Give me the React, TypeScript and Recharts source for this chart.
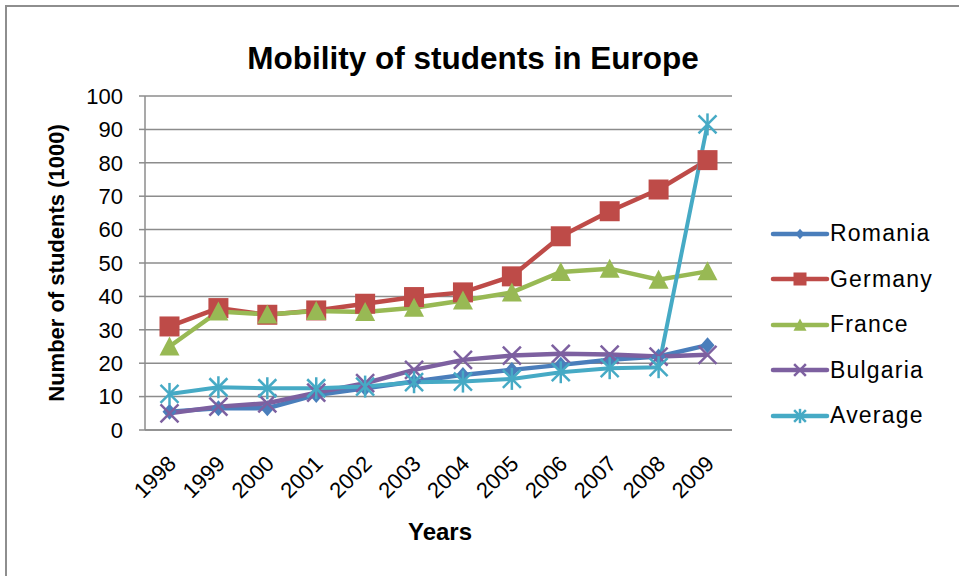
import React from "react";
import { LineChart, Line, XAxis, YAxis, CartesianGrid } from "recharts";

const YEARS = ["1998", "1999", "2000", "2001", "2002", "2003", "2004", "2005", "2006", "2007", "2008", "2009"];
const ROMANIA = [5.5, 6.5, 6.5, 10.5, 12.5, 14.5, 16.5, 18, 19.5, 21, 22, 25.4];
const GERMANY = [31, 36.5, 34.5, 35.8, 37.8, 39.8, 41.2, 46, 58, 65.5, 72, 80.8];
const FRANCE = [25, 35.5, 34.6, 35.6, 35.3, 36.6, 38.8, 41.2, 47.3, 48.3, 45, 47.5];
const BULGARIA = [5, 7, 8, 11.2, 14, 18, 21, 22.3, 22.8, 22.6, 22, 22.5];
const AVERAGE = [10.8, 12.8, 12.5, 12.5, 13, 14.3, 14.5, 15.3, 17.3, 18.5, 18.8, 91.5];
const Y_TICKS = [0, 10, 20, 30, 40, 50, 60, 70, 80, 90, 100];

const SERIES = [
  { key: "Romania", values: ROMANIA, color: "#4a7ebb", shape: "diamond" },
  { key: "Germany", values: GERMANY, color: "#be4b48", shape: "square" },
  { key: "France", values: FRANCE, color: "#98b954", shape: "triangle" },
  { key: "Bulgaria", values: BULGARIA, color: "#7d60a0", shape: "x" },
  { key: "Average", values: AVERAGE, color: "#46aac5", shape: "star" },
];

const data = YEARS.map((year, i) => {
  const row: Record<string, string | number> = { year };
  for (const s of SERIES) row[s.key] = s.values[i];
  return row;
});

const FONT = '"Liberation Sans", Arial, sans-serif';

function Marker({ cx, cy, shape, color, size = 1 }: { cx: number; cy: number; shape: string; color: string; size?: number }) {
  if (cx == null || cy == null) return null;
  const k = size;
  switch (shape) {
    case "diamond":
      return <polygon points={`${cx},${cy - 8 * k} ${cx + 7 * k},${cy} ${cx},${cy + 8 * k} ${cx - 7 * k},${cy}`} fill={color} />;
    case "square":
      return <rect x={cx - 10 * k} y={cy - 10 * k} width={20 * k} height={20 * k} fill={color} />;
    case "triangle":
      return <polygon points={`${cx},${cy - 10 * k} ${cx + 10 * k},${cy + 9 * k} ${cx - 10 * k},${cy + 9 * k}`} fill={color} />;
    case "x":
      return (
        <g stroke={color} strokeWidth={2.5}>
          <line x1={cx - 9 * k} y1={cy - 9 * k} x2={cx + 9 * k} y2={cy + 9 * k} />
          <line x1={cx - 9 * k} y1={cy + 9 * k} x2={cx + 9 * k} y2={cy - 9 * k} />
        </g>
      );
    default:
      return (
        <g stroke={color} strokeWidth={2.5}>
          <line x1={cx - 9 * k} y1={cy - 9 * k} x2={cx + 9 * k} y2={cy + 9 * k} />
          <line x1={cx - 9 * k} y1={cy + 9 * k} x2={cx + 9 * k} y2={cy - 9 * k} />
          <line x1={cx} y1={cy - 11 * k} x2={cx} y2={cy + 11 * k} />
        </g>
      );
  }
}

function YearTick({ x, y, payload }: any) {
  return (
    <g transform={`translate(${x + 8},${y + 27})`}>
      <text textAnchor="end" transform="rotate(-45)" fontSize={22} fontFamily={FONT} fill="#000">
        {payload.value}
      </text>
    </g>
  );
}

function LegendBox() {
  return (
    <div style={{ position: "absolute", left: 770, top: 211, fontFamily: FONT }}>
      {SERIES.map((s) => (
        <div key={s.key} style={{ display: "flex", alignItems: "center", height: 45.5 }}>
          <svg width={60} height={24}>
            <line x1={3} y1={12} x2={57} y2={12} stroke={s.color} strokeWidth={4.5} strokeLinecap="round" />
            <Marker cx={30} cy={12} shape={s.shape} color={s.color} size={0.65} />
          </svg>
          <span style={{ fontSize: 23, letterSpacing: 1.2, color: "#000" }}>{s.key}</span>
        </div>
      ))}
    </div>
  );
}

export default function App() {
  return (
    <div style={{ position: "absolute", left: 0, top: 0, width: 959, height: 576, overflow: "hidden", background: "#fff" }}>
      <div style={{ position: "absolute", left: 5, top: 5, width: 1000, height: 700, borderLeft: "2px solid #8e8e8e", borderTop: "2px solid #8e8e8e" }} />
      <div style={{ position: "absolute", left: 0, top: 40, width: 946, textAlign: "center", fontFamily: FONT, fontWeight: "bold", fontSize: 31.5, color: "#000" }}>
        Mobility of students in Europe
      </div>
      <div style={{ position: "absolute", left: 57, top: 263, transform: "translate(-50%,-50%) rotate(-90deg)", whiteSpace: "nowrap", fontFamily: FONT, fontWeight: "bold", fontSize: 22, color: "#000" }}>
        Number of students (1000)
      </div>
      <div style={{ position: "absolute", left: 400, top: 518, width: 80, textAlign: "center", fontFamily: FONT, fontWeight: "bold", fontSize: 24, color: "#000" }}>
        Years
      </div>
      <div style={{ position: "absolute", left: 0, top: 0 }}>
        <LineChart width={959} height={576} data={data} margin={{ top: 96, right: 227, bottom: 86, left: 85 }}>
          <CartesianGrid vertical={false} stroke="#8c8c8c" strokeWidth={1.5} />
          <XAxis
            dataKey="year"
            height={60}
            padding={{ left: 24.5, right: 24.5 }}
            axisLine={{ stroke: "#8c8c8c", strokeWidth: 1.5 }}
            tickLine={false}
            interval={0}
            tick={<YearTick />}
          />
          <YAxis
            width={60}
            domain={[0, 100]}
            ticks={Y_TICKS}
            interval={0}
            axisLine={{ stroke: "#8c8c8c", strokeWidth: 1.5 }}
            tickLine={{ stroke: "#8c8c8c", strokeWidth: 1.5 }}
            tickSize={6}
            tickMargin={16}
            tick={{ fontSize: 22, fontFamily: FONT, fill: "#000" }}
          />
          {SERIES.map((s) => (
            <Line
              key={s.key}
              dataKey={s.key}
              type="linear"
              stroke={s.color}
              strokeWidth={s.key === "Average" ? 4 : 4.5}
              isAnimationActive={false}
              dot={(p: any) => <Marker key={`${s.key}-${p.index}`} cx={p.cx} cy={p.cy} shape={s.shape} color={s.color} />}
              activeDot={false}
            />
          ))}
        </LineChart>
      </div>
      <LegendBox />
    </div>
  );
}
